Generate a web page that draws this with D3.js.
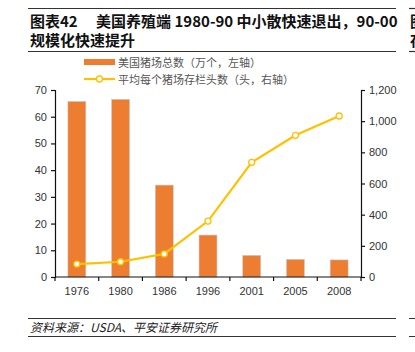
<!DOCTYPE html>
<html>
<head>
<meta charset="utf-8">
<script src="https://cdn.jsdelivr.net/npm/d3@7"></script>
<style>
  body { margin: 0; background: #fff; }
  svg { display: block; font-family: "Liberation Sans", Arial, "Noto Sans CJK SC", sans-serif; }
</style>
</head>
<body>
<svg id="chart" width="415" height="352"></svg>
<script>
// Data
const years = ["1976", "1980", "1986", "1996", "2001", "2005", "2008"];
const farms = [65.7, 66.5, 34.4, 15.7, 8.1, 6.6, 6.4];          // 万个, left axis
const headsPerFarm = [83, 98, 148, 359, 736, 909, 1033];        // 头, right axis
const leftTicks = [0, 10, 20, 30, 40, 50, 60, 70];
const rightTicks = [0, 200, 400, 600, 800, 1000, 1200];

const svg = d3.select("#chart");
const cjk = "'Noto Sans CJK SC', sans-serif";

// -----------------------------
// Header / footer rules and title
// -----------------------------
const rule = (x1, x2, y, w) => svg.append("line")
  .attr("x1", x1).attr("x2", x2).attr("y1", y).attr("y2", y)
  .attr("stroke", "#333").attr("stroke-width", w);

rule(28, 396, 8.5, 1.2);
rule(28, 396, 51.5, 1.2);
rule(28, 396, 318.5, 1);
rule(28, 396, 336.5, 1);
rule(409, 415, 8.5, 1.2);
rule(409, 415, 51.5, 1.2);
rule(409, 415, 318.5, 1);
rule(409, 415, 336.5, 1);

svg.append("text")
  .attr("x", 30).attr("y", 27)
  .attr("font-size", 15).attr("font-weight", "bold").attr("fill", "#111")
  .style("font-family", cjk)
  .text("图表42\u3000 美国养殖端 1980-90 中小散快速退出，90-00");
svg.append("text")
  .attr("x", 30).attr("y", 46)
  .attr("font-size", 15).attr("font-weight", "bold").attr("fill", "#111")
  .style("font-family", cjk)
  .text("规模化快速提升");
// neighbouring panel, cut off at the edge
svg.append("text").attr("x", 410).attr("y", 27)
  .attr("font-size", 15).attr("font-weight", "bold").attr("fill", "#111")
  .style("font-family", cjk).text("图");
svg.append("text").attr("x", 410).attr("y", 46)
  .attr("font-size", 15).attr("font-weight", "bold").attr("fill", "#111")
  .style("font-family", cjk).text("存");

svg.append("text")
  .attr("x", 30).attr("y", 332)
  .attr("font-size", 12).attr("font-style", "italic").attr("fill", "#222")
  .style("font-family", cjk)
  .text("资料来源：USDA、平安证券研究所");

// -----------------------------
// Scales
// -----------------------------
const x0 = 55, x1 = 361, yTop = 90, yBot = 277;
const x = d3.scaleBand().domain(years).range([x0, x1]).paddingInner(0.59).paddingOuter(0.295);
const band = d3.scaleBand().domain(years).range([x0, x1]);
const yL = d3.scaleLinear().domain([0, 70]).range([yBot, yTop]);
const yR = d3.scaleLinear().domain([0, 1200]).range([yBot, yTop]);

const barColor = "#ED7D31";
const lineColor = "#FFC000";

// Bars
svg.append("g").selectAll("rect")
  .data(years)
  .join("rect")
  .attr("x", d => x(d))
  .attr("width", x.bandwidth())
  .attr("y", (d, i) => yL(farms[i]))
  .attr("height", (d, i) => yBot - yL(farms[i]))
  .attr("fill", barColor)
  .attr("stroke", "#c8c8c8")
  .attr("stroke-width", 0.6);

// Axes
const axisStyle = g => {
  g.selectAll("path, line").attr("stroke", "#111").attr("stroke-width", 1.2);
  g.selectAll("text").attr("fill", "#333").attr("font-size", 11);
};

svg.append("g")
  .attr("transform", `translate(${x0},0)`)
  .call(d3.axisLeft(yL).tickValues(leftTicks).tickSize(4).tickSizeOuter(4).tickPadding(4))
  .call(axisStyle);

svg.append("g")
  .attr("transform", `translate(${x1},0)`)
  .call(d3.axisRight(yR).tickValues(rightTicks).tickSize(4).tickSizeOuter(4).tickPadding(4)
    .tickFormat(d3.format(",")))
  .call(axisStyle);

// x axis: line plus boundary ticks
const xg = svg.append("g").attr("transform", `translate(0,${yBot})`);
xg.append("line").attr("x1", x0).attr("x2", x1).attr("stroke", "#111").attr("stroke-width", 1.2);
xg.selectAll("line.tick")
  .data(years.concat(["end"]))
  .join("line")
  .attr("class", "tick")
  .attr("x1", (d, i) => i < years.length ? band(d) : x1)
  .attr("x2", (d, i) => i < years.length ? band(d) : x1)
  .attr("y1", 0).attr("y2", 4)
  .attr("stroke", "#111").attr("stroke-width", 1.2);
xg.selectAll("text")
  .data(years)
  .join("text")
  .attr("x", d => band(d) + band.bandwidth() / 2)
  .attr("y", 18)
  .attr("text-anchor", "middle")
  .attr("font-size", 11).attr("fill", "#333")
  .text(d => d);

// Line on right axis
const line = d3.line()
  .x((d, i) => band(years[i]) + band.bandwidth() / 2)
  .y(d => yR(d));

svg.append("path")
  .datum(headsPerFarm)
  .attr("d", line)
  .attr("fill", "none")
  .attr("stroke", lineColor)
  .attr("stroke-width", 2.2);

svg.append("g").selectAll("circle")
  .data(headsPerFarm)
  .join("circle")
  .attr("cx", (d, i) => band(years[i]) + band.bandwidth() / 2)
  .attr("cy", d => yR(d))
  .attr("r", 3)
  .attr("fill", "#fff")
  .attr("stroke", lineColor)
  .attr("stroke-width", 1.3);

// Legend
const lg = svg.append("g");
lg.append("rect").attr("x", 84).attr("y", 59).attr("width", 31).attr("height", 6).attr("fill", barColor);
lg.append("text").attr("x", 118).attr("y", 66.5)
  .attr("font-size", 11).attr("fill", "#555").style("font-family", cjk)
  .text("美国猪场总数（万个，左轴）");
lg.append("line").attr("x1", 84).attr("x2", 115).attr("y1", 79).attr("y2", 79)
  .attr("stroke", lineColor).attr("stroke-width", 2.2);
lg.append("circle").attr("cx", 99.5).attr("cy", 79).attr("r", 3)
  .attr("fill", "#fff").attr("stroke", lineColor).attr("stroke-width", 1.3);
lg.append("text").attr("x", 118).attr("y", 83.5)
  .attr("font-size", 11).attr("fill", "#555").style("font-family", cjk)
  .text("平均每个猪场存栏头数（头，右轴）");
</script>
</body>
</html>
